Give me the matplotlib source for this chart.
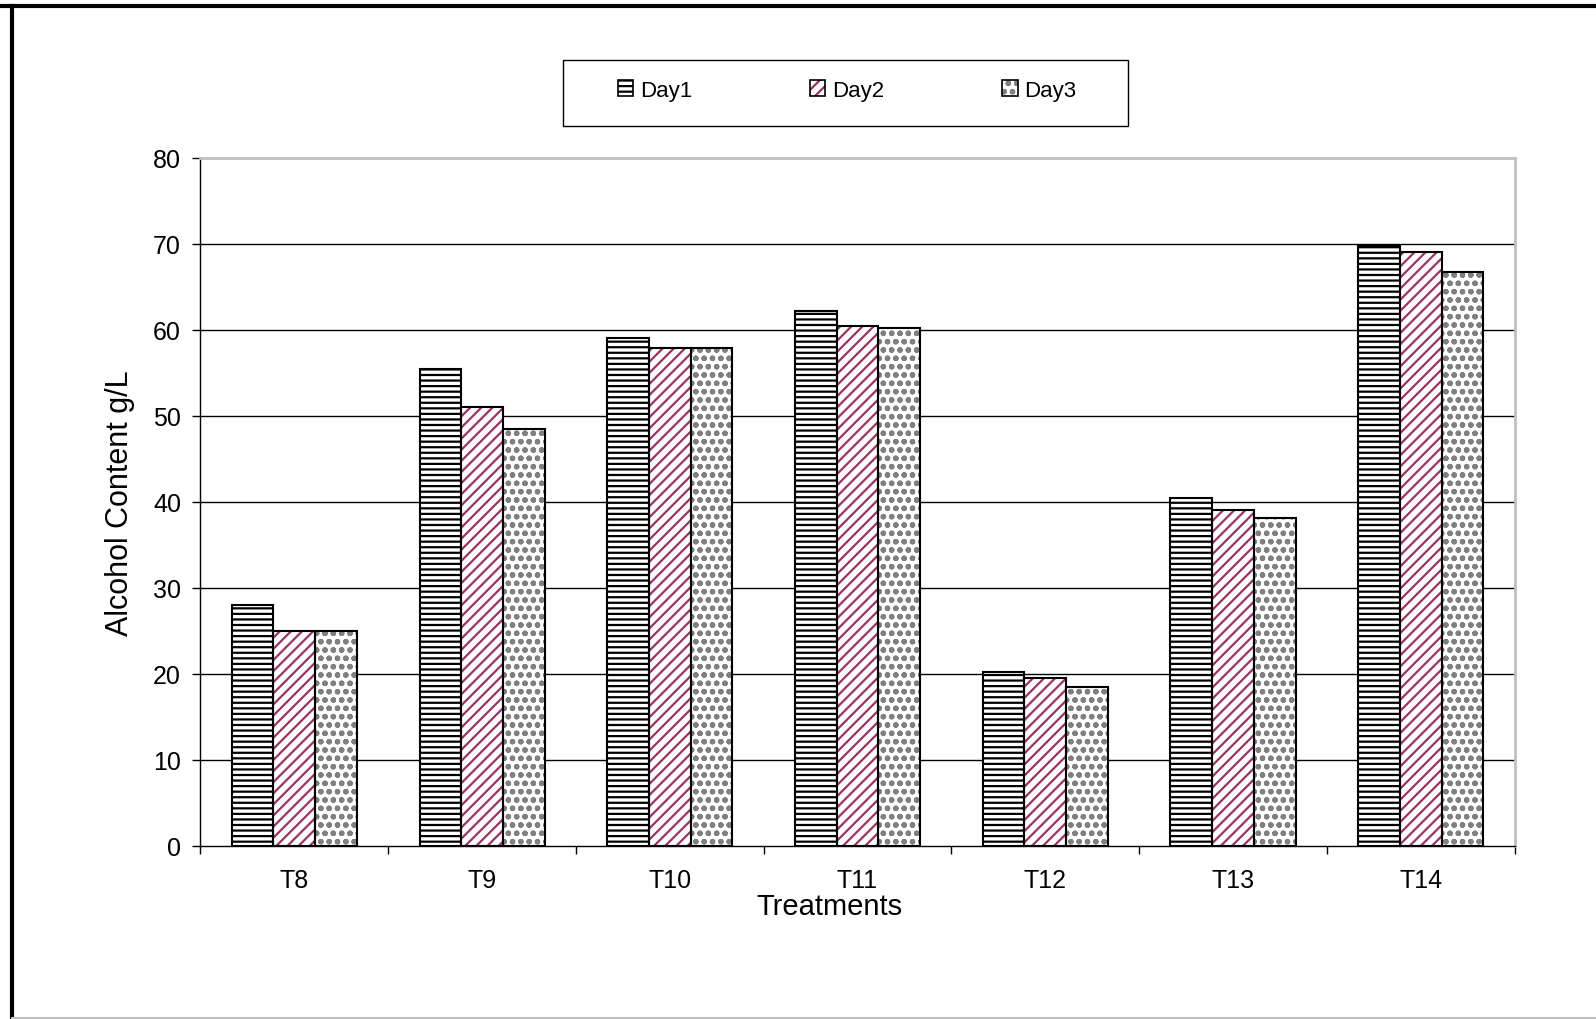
import matplotlib
matplotlib.use('Agg')
import matplotlib.pyplot as plt
import numpy as np
from matplotlib.patches import Rectangle
from matplotlib.lines import Line2D

plt.rcParams['font.family'] = ['Liberation Sans', 'DejaVu Sans']
plt.rcParams['hatch.linewidth'] = 1.6

treatments = ['T8', 'T9', 'T10', 'T11', 'T12', 'T13', 'T14']
days = ['Day1', 'Day2', 'Day3']
day1 = [28.0, 55.5, 59.0, 62.2, 20.2, 40.4, 69.8]
day2 = [25.0, 51.0, 57.9, 60.5, 19.5, 39.0, 69.1]
day3 = [25.0, 48.5, 57.9, 60.2, 18.5, 38.1, 66.7]

hatch_cols = ['black', '#993366', '#808080']
hatches = ['---', '///', 'oo']

fig = plt.figure(figsize=(15.96, 10.2), dpi=100)
ax = fig.add_axes([0.1256, 0.1697, 0.9490 - 0.1256, 0.8443 - 0.1697])

x = np.arange(len(treatments))
w = 0.222
handles = []
for k, vals in enumerate([day1, day2, day3]):
    pos = x + (k - 1) * w
    ax.bar(pos, vals, w, color='white', edgecolor=hatch_cols[k],
           hatch=hatches[k], linewidth=0, zorder=2)
    ax.bar(pos, vals, w, fill=False, edgecolor='black', linewidth=1.5, zorder=3)
    h1 = Rectangle((0, 0), 1, 1, facecolor='white', edgecolor=hatch_cols[k],
                   hatch=hatches[k], linewidth=0)
    h2 = Rectangle((0, 0), 1, 1, fill=False, edgecolor='black', linewidth=1.2)
    handles.append((h1, h2))

ax.set_xlim(-0.5, len(treatments) - 0.5)
ax.set_ylim(0, 80)
ax.set_yticks(np.arange(0, 81, 10))
ax.set_xticks(x)
ax.set_xticklabels(treatments)
ax.set_xticks(np.arange(-0.5, len(treatments), 1), minor=True)
ax.tick_params(axis='x', which='major', length=0, pad=16, labelsize=18)
ax.tick_params(axis='x', which='minor', length=6, width=1, direction='out')
ax.tick_params(axis='y', length=6, width=1, direction='out', pad=8, labelsize=18)

for v in range(10, 80, 10):
    ax.axhline(v, color='black', linewidth=1, zorder=1)

for s in ['left', 'bottom']:
    ax.spines[s].set_color('black')
    ax.spines[s].set_linewidth(1)
for s in ['top', 'right']:
    ax.spines[s].set_color('#c0c0c0')
    ax.spines[s].set_linewidth(2)

ax.set_xlabel('Treatments', fontsize=21)
ax.xaxis.set_label_coords(0.479, -0.099)
ax.xaxis.label.set_verticalalignment('baseline')
ax.set_ylabel('Alcohol Content g/L', fontsize=22)
ax.yaxis.set_label_coords(-0.0613, 0.5)
ax.yaxis.label.set_verticalalignment('center')

# legend box
fig.patches.append(Rectangle((563 / 1596, 1 - 127 / 1020), (1128 - 563) / 1596, 66 / 1020,
                             transform=fig.transFigure, fill=False, edgecolor='black',
                             linewidth=1))
fig.legend(handles, days, loc='center', bbox_to_anchor=(847 / 1596, 1 - 91 / 1020),
           ncol=3, frameon=False, fontsize=16, handlelength=0.7, handleheight=0.7,
           handletextpad=0.3, columnspacing=5.3)

# outer frame
fig.add_artist(Line2D([0, 1], [1 - 7 / 1020, 1 - 7 / 1020], transform=fig.transFigure,
                      color='black', linewidth=3))
fig.add_artist(Line2D([12 / 1596, 12 / 1596], [0, 1 - 7 / 1020], transform=fig.transFigure,
                      color='black', linewidth=3))
fig.add_artist(Line2D([12 / 1596, 1], [1 / 1020, 1 / 1020], transform=fig.transFigure,
                      color='#c0c0c0', linewidth=1.5))

fig.savefig('out.png', dpi=100)
